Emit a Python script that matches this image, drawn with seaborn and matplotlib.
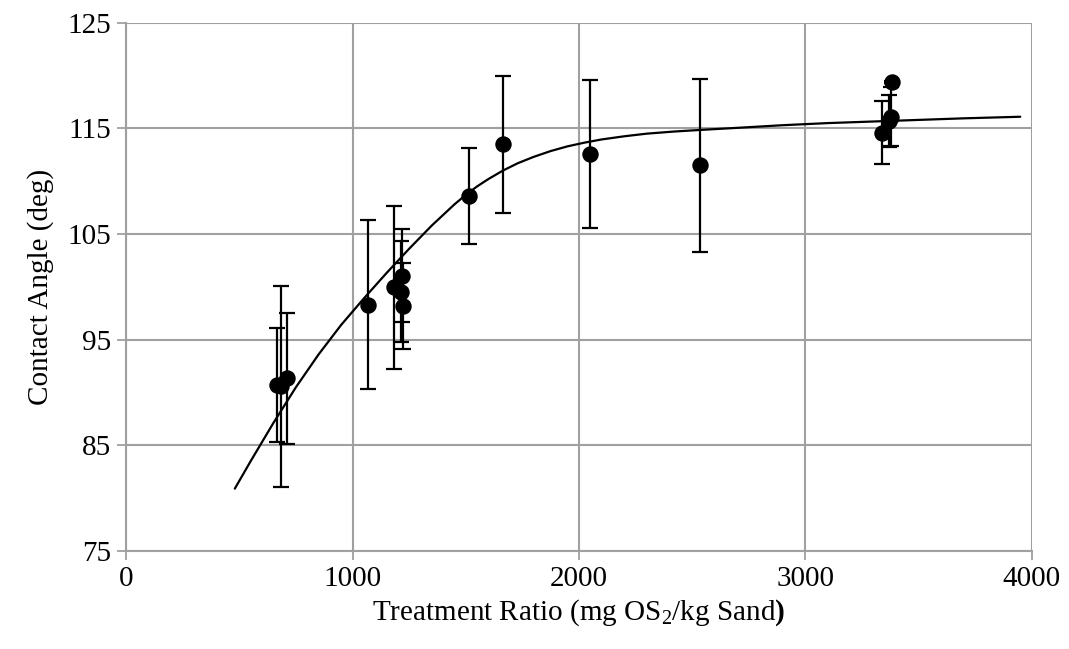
import matplotlib
matplotlib.use("Agg")
import matplotlib.pyplot as plt
import seaborn as sns
import pandas as pd

# Measured points
ratio = [668, 685, 709, 1067, 1185, 1214, 1217, 1221, 1514, 1664, 2049, 2535, 3340, 3372, 3380, 3383]
angle = [90.7, 90.6, 91.35, 98.3, 99.95, 99.55, 101.05, 98.2, 108.6, 113.5, 112.6, 111.5, 114.6, 115.7, 116.1, 119.35]
angle_err = [5.4, 9.5, 6.2, 8.0, 7.7, 4.75, 4.4, 4.1, 4.5, 6.5, 7.0, 8.2, 3.0, 2.5, 2.8, 0.1]

# Fitted trend curve
fit_ratio = [480, 550, 650, 750, 850, 950, 1050, 1150, 1250, 1350, 1450, 1500, 1550, 1600,
             1664, 1730, 1800, 1875, 1950, 2025, 2100, 2200, 2300, 2420, 2535, 2700,
             2900, 3100, 3300, 3500, 3700, 3950]
fit_angle = [80.9, 83.5, 87.1, 90.5, 93.6, 96.4, 98.9, 101.3, 103.6, 105.8, 107.8, 108.7, 109.5, 110.2,
             111.0, 111.7, 112.3, 112.85, 113.3, 113.65, 113.95, 114.25, 114.5, 114.7, 114.85, 115.05,
             115.3, 115.5, 115.65, 115.8, 115.95, 116.1]

x_ticks = [0, 1000, 2000, 3000, 4000]
y_ticks = [75, 85, 95, 105, 115, 125]

sns.set_theme(style="whitegrid")
plt.rcParams['font.family'] = ['Liberation Serif', 'DejaVu Serif']
plt.rcParams['mathtext.fontset'] = 'custom'
plt.rcParams['mathtext.rm'] = 'Liberation Serif'
plt.rcParams['mathtext.it'] = 'Liberation Serif:italic'
plt.rcParams['mathtext.bf'] = 'Liberation Serif:bold'

fig = plt.figure(figsize=(10.69, 6.49), dpi=100)
ax = fig.add_axes([0.118, 0.151, 0.847, 0.814])

pts = pd.DataFrame({"ratio": ratio, "angle": angle})
fit = pd.DataFrame({"ratio": fit_ratio, "angle": fit_angle})

ax.errorbar(ratio, angle, yerr=angle_err, fmt='none', ecolor='black',
            elinewidth=1.6, capsize=5.5, capthick=1.6, zorder=3)
sns.lineplot(data=fit, x="ratio", y="angle", sort=False, color='black',
             linewidth=1.6, ax=ax, zorder=4)
sns.scatterplot(data=pts, x="ratio", y="angle", color='black', s=140,
                edgecolor='black', linewidth=0, ax=ax, zorder=5)

ax.set_xlim(0, 4000)
ax.set_ylim(75, 125)
ax.set_xticks(x_ticks)
ax.set_yticks(y_ticks)
ax.grid(True, color='#a0a0a0', linewidth=1.5)
for s in ax.spines.values():
    s.set_visible(False)
ax.spines['left'].set_visible(True)
ax.spines['bottom'].set_visible(True)
ax.spines['left'].set_color('#a0a0a0')
ax.spines['bottom'].set_color('#a0a0a0')
ax.spines['left'].set_linewidth(1.5)
ax.spines['bottom'].set_linewidth(1.5)
ax.tick_params(axis='both', which='major', direction='out', length=6.5, width=1.3,
               color='#a0a0a0', labelsize=21, labelcolor='black', left=True, bottom=True, pad=4)

ax.set_xlabel(r'Treatment Ratio (mg OS$_2$/kg Sand$\mathbf{)}$', fontsize=21, color='black', labelpad=4)
ax.set_ylabel('Contact Angle (deg)', fontsize=21, color='black', labelpad=10)

fig.savefig("out.png", dpi=100, facecolor='white')
